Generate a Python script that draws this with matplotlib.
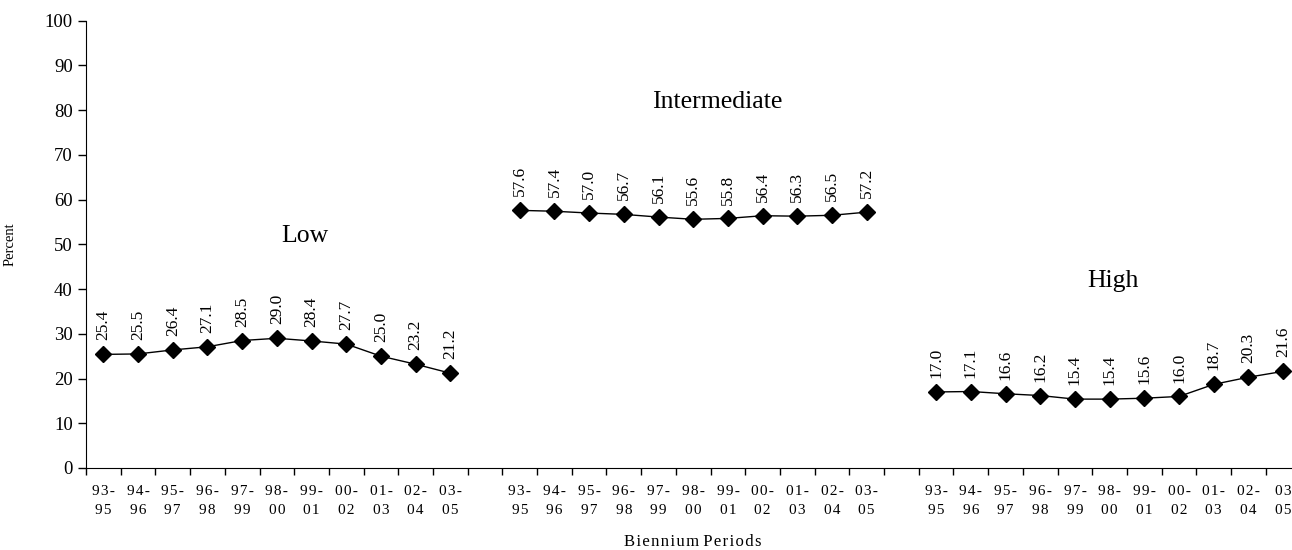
import numpy as np
import matplotlib
matplotlib.use('Agg')
from matplotlib import pyplot as plt

periods = ['93-\n95', '94-\n96', '95-\n97', '96-\n98', '97-\n99', '98-\n00',
           '99-\n01', '00-\n02', '01-\n03', '02-\n04', '03-\n05']
periods_last = periods[:-1] + ['03\n05']

low = [25.4, 25.5, 26.4, 27.1, 28.5, 29.0, 28.4, 27.7, 25.0, 23.2, 21.2]
intermediate = [57.6, 57.4, 57.0, 56.7, 56.1, 55.6, 55.8, 56.4, 56.3, 56.5, 57.2]
high = [17.0, 17.1, 16.6, 16.2, 15.4, 15.4, 15.6, 16.0, 18.7, 20.3, 21.6]

group_names = ['Low', 'Intermediate', 'High']
# where each group name sits: offset from group start (in categories) and y value
group_label_dx = [5.8, 5.7, 5.1]
group_label_y = [51.8, 81.8, 41.7]

plt.rcParams['font.family'] = ['Liberation Serif', 'DejaVu Serif']


def spaced(s):
    # the original tick labels are letter spaced
    return '\n'.join('\u200a'.join(line) for line in s.split('\n'))


fig = plt.figure(figsize=(12.92, 5.5), dpi=100)
ax = fig.add_axes([86 / 1292, 1 - 468 / 550, 1214.5 / 1292, 447.3 / 550])

n = len(periods)
ticks = []
labels = []
for g, vals in enumerate([low, intermediate, high]):
    x = np.arange(n) + g * (n + 1)
    ax.plot(x, vals, color='black', lw=1, marker='D', ms=8, mec='black', mfc='black')
    for xi, v in zip(x, vals):
        ax.annotate(f'{v:.1f}', (xi, v), xytext=(0, 10), textcoords='offset points',
                    rotation=90, ha='center', va='bottom', fontsize=12.5)
    ax.text(g * (n + 1) + group_label_dx[g], group_label_y[g], group_names[g],
            ha='center', va='center', fontsize=18.5)
    ticks += list(x)
    labels += [spaced(s) for s in (periods_last if g == 2 else periods)]

ax.set_xlim(-0.5, 3 * n + 2 - 0.5)
ax.set_ylim(0, 100)
ax.set_yticks(np.arange(0, 101, 10))
ax.set_xticks(ticks)
ax.set_xticklabels(labels, fontsize=11, linespacing=1.6)
ax.set_xticks(np.arange(-0.5, 3 * n + 2, 1), minor=True)
ax.tick_params(axis='x', which='major', length=0, pad=12)
ax.tick_params(axis='x', which='minor', length=5, width=1, direction='out')
ax.tick_params(axis='y', length=6, width=1, direction='out', labelsize=13.5)
for lab in ax.get_xticklabels():
    lab.set_multialignment('center')

ax.spines['top'].set_visible(False)
ax.spines['right'].set_visible(False)
ax.set_ylabel('Percent', fontsize=10.5)
ax.yaxis.set_label_coords(-0.0568, 0.5)
ax.set_xlabel('B\u200ai\u200ae\u200an\u200an\u200ai\u200au\u200am P\u200ae\u200ar\u200ai\u200ao\u200ad\u200as',
              fontsize=12)
ax.xaxis.set_label_coords(0.5, -0.148)

plt.savefig('out.png', dpi=100)
